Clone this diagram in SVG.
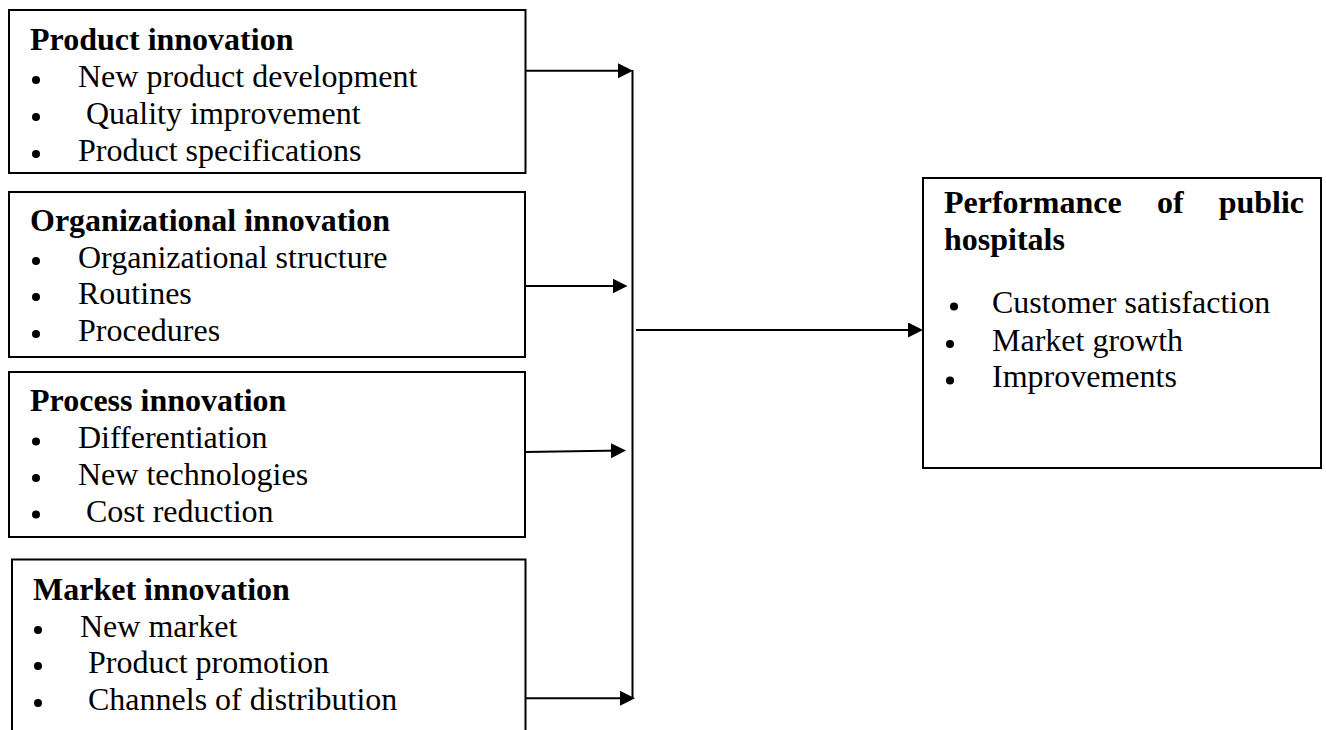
<svg xmlns="http://www.w3.org/2000/svg" width="1326" height="730" viewBox="0 0 1326 730">
<style>
.box{fill:#fff;stroke:#000;stroke-width:2}
.t{font-family:"Liberation Serif","Times New Roman",serif;font-size:32px;fill:#000}
.b{font-weight:bold}
.dot{fill:#000}
.ln{stroke:#000;stroke-width:2;fill:none}
</style>
<defs>
<marker id="ah" markerUnits="userSpaceOnUse" markerWidth="16" markerHeight="16" refX="11" refY="7.5" orient="auto">
<path d="M0,0 L15,7.5 L0,15 z" fill="#000"/>
</marker>
</defs>
<rect width="1326" height="730" fill="#fff"/>
<g id="product">
<rect class="box" x="9" y="10" width="516.5" height="163"/>
<text class="t b" x="30" y="50">Product innovation</text>
<circle class="dot" cx="36" cy="80" r="4"/><text class="t" x="78" y="87">New product development</text>
<circle class="dot" cx="36" cy="117" r="4"/><text class="t" x="86" y="124">Quality improvement</text>
<circle class="dot" cx="36" cy="154" r="4"/><text class="t" x="78" y="161">Product specifications</text>
</g>
<g id="organizational">
<rect class="box" x="9" y="192" width="516" height="165"/>
<text class="t b" x="30" y="231">Organizational innovation</text>
<circle class="dot" cx="36" cy="261" r="4"/><text class="t" x="78" y="268">Organizational structure</text>
<circle class="dot" cx="36" cy="297" r="4"/><text class="t" x="78" y="304">Routines</text>
<circle class="dot" cx="36" cy="334" r="4"/><text class="t" x="78" y="341">Procedures</text>
</g>
<g id="process">
<rect class="box" x="9" y="372" width="516" height="165"/>
<text class="t b" x="30" y="411">Process innovation</text>
<circle class="dot" cx="36" cy="441.5" r="4"/><text class="t" x="78" y="448">Differentiation</text>
<circle class="dot" cx="36" cy="478" r="4"/><text class="t" x="78" y="485">New technologies</text>
<circle class="dot" cx="36" cy="514.5" r="4"/><text class="t" x="86" y="521.5">Cost reduction</text>
</g>
<g id="market">
<path class="box" d="M12,732 V559.5 H525.5 V732"/>
<text class="t b" x="33" y="600">Market innovation</text>
<circle class="dot" cx="38" cy="630" r="4"/><text class="t" x="80" y="637">New market</text>
<circle class="dot" cx="38" cy="666" r="4"/><text class="t" x="88" y="673">Product promotion</text>
<circle class="dot" cx="38" cy="703" r="4"/><text class="t" x="88" y="710">Channels of distribution</text>
</g>
<g id="performance">
<rect class="box" x="923" y="178" width="398" height="290"/>
<text class="t b" x="944" y="213">Performance</text>
<text class="t b" x="1157" y="213">of</text>
<text class="t b" x="1304" y="213" text-anchor="end">public</text>
<text class="t b" x="944" y="250">hospitals</text>
<circle class="dot" cx="954" cy="306.5" r="4"/><text class="t" x="992" y="313">Customer satisfaction</text>
<circle class="dot" cx="950" cy="344" r="4"/><text class="t" x="992" y="350.5">Market growth</text>
<circle class="dot" cx="950" cy="380.5" r="4"/><text class="t" x="992" y="386.5">Improvements</text>
</g>
<g id="connectors">
<line class="ln" x1="632.5" y1="70" x2="632.5" y2="699"/>
<line class="ln" x1="525" y1="70.7" x2="629" y2="70.7" marker-end="url(#ah)"/>
<line class="ln" x1="525" y1="286" x2="623.5" y2="286" marker-end="url(#ah)"/>
<line class="ln" x1="525" y1="452" x2="622" y2="450.6" marker-end="url(#ah)"/>
<line class="ln" x1="525.5" y1="698.3" x2="631" y2="698.3" marker-end="url(#ah)"/>
<line class="ln" x1="636" y1="330" x2="919" y2="330" marker-end="url(#ah)"/>
</g>
</svg>
